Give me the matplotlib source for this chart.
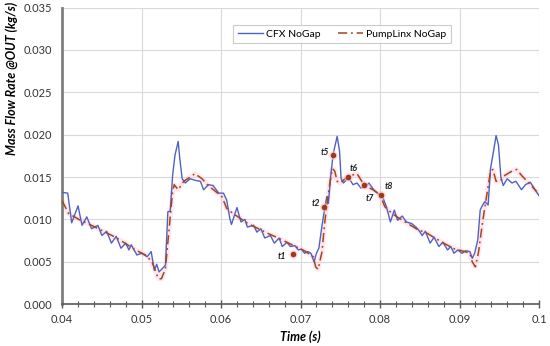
import numpy as np
import matplotlib
matplotlib.use("Agg")
import matplotlib.pyplot as plt
from matplotlib.ticker import MultipleLocator, FuncFormatter

plt.rcParams["font.family"] = ["Lato", "DejaVu Sans"]

# CFX NoGap (time in s, mass flow in kg/s)
cfx_t = [0.0400, 0.0407, 0.0412, 0.0420, 0.0425, 0.0431, 0.0437, 0.0445, 0.0450, 0.0456,
         0.0462, 0.0468, 0.0474, 0.0480, 0.0484, 0.0487, 0.0494, 0.0500, 0.0507, 0.0512,
         0.0516, 0.0519, 0.0522, 0.0526, 0.0530, 0.0533, 0.0536, 0.0539, 0.0542, 0.0546,
         0.0548, 0.0551, 0.0555, 0.0561, 0.0568, 0.0574, 0.0578, 0.0584, 0.0590, 0.0597,
         0.0603, 0.0607, 0.0611, 0.0613, 0.0620, 0.0625, 0.0630, 0.0633, 0.0641, 0.0645,
         0.0650, 0.0655, 0.0662, 0.0667, 0.0673, 0.0677, 0.0683, 0.0687, 0.0693, 0.0697,
         0.0701, 0.0705, 0.0709, 0.0713, 0.0717, 0.0720, 0.0723, 0.0727, 0.0730, 0.0733,
         0.0735, 0.0738, 0.0741, 0.0746, 0.0749, 0.0751, 0.0754, 0.0758, 0.0762, 0.0766,
         0.0771, 0.0776, 0.0781, 0.0786, 0.0792, 0.0797, 0.0803, 0.0808, 0.0813, 0.0818,
         0.0822, 0.0828, 0.0833, 0.0840, 0.0845, 0.0849, 0.0853, 0.0857, 0.0863, 0.0868,
         0.0874, 0.0879, 0.0885, 0.0889, 0.0893, 0.0898, 0.0903, 0.0908, 0.0913, 0.0916,
         0.0919, 0.0923, 0.0926, 0.0929, 0.0932, 0.0936, 0.0939, 0.0942, 0.0946, 0.0949,
         0.0952, 0.0955, 0.0960, 0.0966, 0.0971, 0.0978, 0.0983, 0.0989, 0.0995, 0.1000]
cfx_q = [0.0132, 0.0131, 0.0096, 0.0116, 0.0093, 0.0103, 0.0089, 0.0093, 0.0081, 0.0086,
         0.0072, 0.0080, 0.0066, 0.0072, 0.0064, 0.0070, 0.0058, 0.0060, 0.0056, 0.0062,
         0.0040, 0.0047, 0.0038, 0.0042, 0.0046, 0.0109, 0.0110, 0.0152, 0.0176, 0.0192,
         0.0172, 0.0148, 0.0143, 0.0148, 0.0146, 0.0145, 0.0135, 0.0141, 0.0140, 0.0131,
         0.0131, 0.0123, 0.0101, 0.0094, 0.0114, 0.0097, 0.0100, 0.0091, 0.0093, 0.0085,
         0.0089, 0.0078, 0.0081, 0.0072, 0.0078, 0.0068, 0.0073, 0.0068, 0.0069, 0.0064,
         0.0065, 0.0060, 0.0062, 0.0060, 0.0050, 0.0060, 0.0066, 0.0093, 0.0111, 0.0127,
         0.0119, 0.0152, 0.0177, 0.0198, 0.0181, 0.0148, 0.0143, 0.0147, 0.0147, 0.0141,
         0.0143, 0.0137, 0.0138, 0.0143, 0.0135, 0.0131, 0.0127, 0.0115, 0.0097, 0.0111,
         0.0099, 0.0104, 0.0097, 0.0095, 0.0091, 0.0087, 0.0081, 0.0086, 0.0072, 0.0079,
         0.0068, 0.0073, 0.0064, 0.0068, 0.0060, 0.0064, 0.0060, 0.0063, 0.0062, 0.0054,
         0.0060, 0.0076, 0.0111, 0.0117, 0.0121, 0.0117, 0.0160, 0.0176, 0.0199, 0.0188,
         0.0150, 0.0140, 0.0148, 0.0143, 0.0145, 0.0135, 0.0141, 0.0144, 0.0135, 0.0128]

# PumpLinx NoGap
pl_t = [0.0400, 0.0408, 0.0423, 0.0437, 0.0454, 0.0467, 0.0479, 0.0492, 0.0505, 0.0513,
        0.0521, 0.0525, 0.0530, 0.0535, 0.0539, 0.0541, 0.0546, 0.0553, 0.0561, 0.0567,
        0.0576, 0.0584, 0.0593, 0.0601, 0.0607, 0.0615, 0.0626, 0.0634, 0.0647, 0.0660,
        0.0672, 0.0685, 0.0698, 0.0705, 0.0716, 0.0719, 0.0722, 0.0727, 0.0730, 0.0733,
        0.0737, 0.0740, 0.0743, 0.0746, 0.0750, 0.0756, 0.0764, 0.0771, 0.0777, 0.0783,
        0.0791, 0.0800, 0.0806, 0.0815, 0.0823, 0.0835, 0.0849, 0.0857, 0.0869, 0.0882,
        0.0894, 0.0907, 0.0913, 0.0916, 0.0920, 0.0924, 0.0929, 0.0935, 0.0939, 0.0942,
        0.0946, 0.0951, 0.0957, 0.0966, 0.0972, 0.0978, 0.0987, 0.0997]
pl_q = [0.0122, 0.0107, 0.0099, 0.0093, 0.0085, 0.0079, 0.0072, 0.0064, 0.0058, 0.0050,
        0.0030, 0.0030, 0.0042, 0.0093, 0.0133, 0.0141, 0.0135, 0.0145, 0.0150, 0.0154,
        0.0148, 0.0140, 0.0133, 0.0127, 0.0113, 0.0107, 0.0100, 0.0095, 0.0089, 0.0083,
        0.0078, 0.0072, 0.0066, 0.0063, 0.0056, 0.0044, 0.0041, 0.0062, 0.0093, 0.0117,
        0.0144, 0.0160, 0.0157, 0.0145, 0.0143, 0.0148, 0.0152, 0.0154, 0.0145, 0.0139,
        0.0135, 0.0129, 0.0115, 0.0107, 0.0102, 0.0095, 0.0087, 0.0085, 0.0078, 0.0071,
        0.0065, 0.0062, 0.0060, 0.0050, 0.0044, 0.0062, 0.0097, 0.0133, 0.0157, 0.0159,
        0.0145, 0.0145, 0.0152, 0.0157, 0.0159, 0.0152, 0.0143, 0.0133]

# marked instants
mark_names = ["t1", "t2", "t5", "t6", "t7", "t8"]
mark_t = [0.0691, 0.0730, 0.0741, 0.0760, 0.0780, 0.0801]
mark_q = [0.0059, 0.0115, 0.0176, 0.0150, 0.0141, 0.0129]
mark_offsets = [(-11, -2), (-9, 2), (-9, 2), (1, 6), (1, -10), (3, 6)]

x_ticks = [0.04, 0.05, 0.06, 0.07, 0.08, 0.09, 0.1]

blue = "#4F62C4"
brown = "#A2471C"

fig = plt.figure(figsize=(5.5, 3.46), dpi=100)
ax = fig.add_axes([0.113, 0.121, 0.867, 0.857])

ax.plot(pl_t, pl_q, color="#FFC8DC", lw=3.5, alpha=0.45, zorder=2)
ax.plot(cfx_t, cfx_q, color=blue, lw=1.0, label="CFX NoGap", zorder=3)
ax.plot(pl_t, pl_q, color=brown, lw=1.1, ls=(0, (6, 2.5, 1.2, 2.5)),
        label="PumpLinx NoGap", zorder=4)

ax.scatter(mark_t, mark_q, s=40, color="#FFC0D8", alpha=0.6, zorder=5, lw=0)
ax.scatter(mark_t, mark_q, s=16, color="#9E3B12", zorder=6, lw=0)
for name, t, q, off in zip(mark_names, mark_t, mark_q, mark_offsets):
    ax.annotate(name, (t, q), xytext=off, textcoords="offset points",
                fontsize=6.5, fontstyle="italic", fontweight="bold",
                ha="left", va="center", color="#222222")

ax.set_xlim(0.04, 0.1)
ax.set_ylim(0, 0.035)
ax.set_xticks(x_ticks)
ax.xaxis.set_major_formatter(FuncFormatter(lambda v, p: "%g" % round(v, 3)))
ax.xaxis.set_minor_locator(MultipleLocator(0.002))
ax.yaxis.set_major_locator(MultipleLocator(0.005))
ax.yaxis.set_major_formatter(FuncFormatter(lambda v, p: "%.3f" % v))

ax.grid(True, which="major", color="#D9D9D9", lw=0.8)
ax.set_axisbelow(True)
for s in ["top", "right"]:
    ax.spines[s].set_visible(False)
ax.spines["left"].set_color("#7F7F7F")
ax.spines["left"].set_linewidth(2.0)
ax.spines["bottom"].set_color("#595959")
ax.spines["bottom"].set_linewidth(1.2)

ax.tick_params(axis="x", which="major", direction="inout", length=6, width=1,
               color="#595959", labelsize=8, pad=4, labelcolor="#333333")
ax.tick_params(axis="x", which="minor", direction="inout", length=4, width=0.8,
               color="#595959")
ax.tick_params(axis="y", which="major", length=0, labelsize=8, pad=7,
               labelcolor="#333333")

ax.set_xlabel("Time (s)", fontsize=9, fontstyle="italic", fontweight="bold")
ax.xaxis.set_label_coords(0.5, -0.09)
ax.set_ylabel("Mass Flow Rate @OUT (kg/s)", fontsize=9, fontstyle="italic",
              fontweight="bold")
ax.yaxis.set_label_coords(-0.092, 0.76)

leg = ax.legend(loc="upper center", bbox_to_anchor=(0.587, 0.96), ncol=2,
                fontsize=7.5, frameon=True, fancybox=False, handlelength=2.4,
                handletextpad=0.3, columnspacing=1.6, borderpad=0.45)
leg.get_frame().set_edgecolor("#BFBFBF")
leg.get_frame().set_linewidth(0.8)

fig.savefig("out.png", dpi=100)
